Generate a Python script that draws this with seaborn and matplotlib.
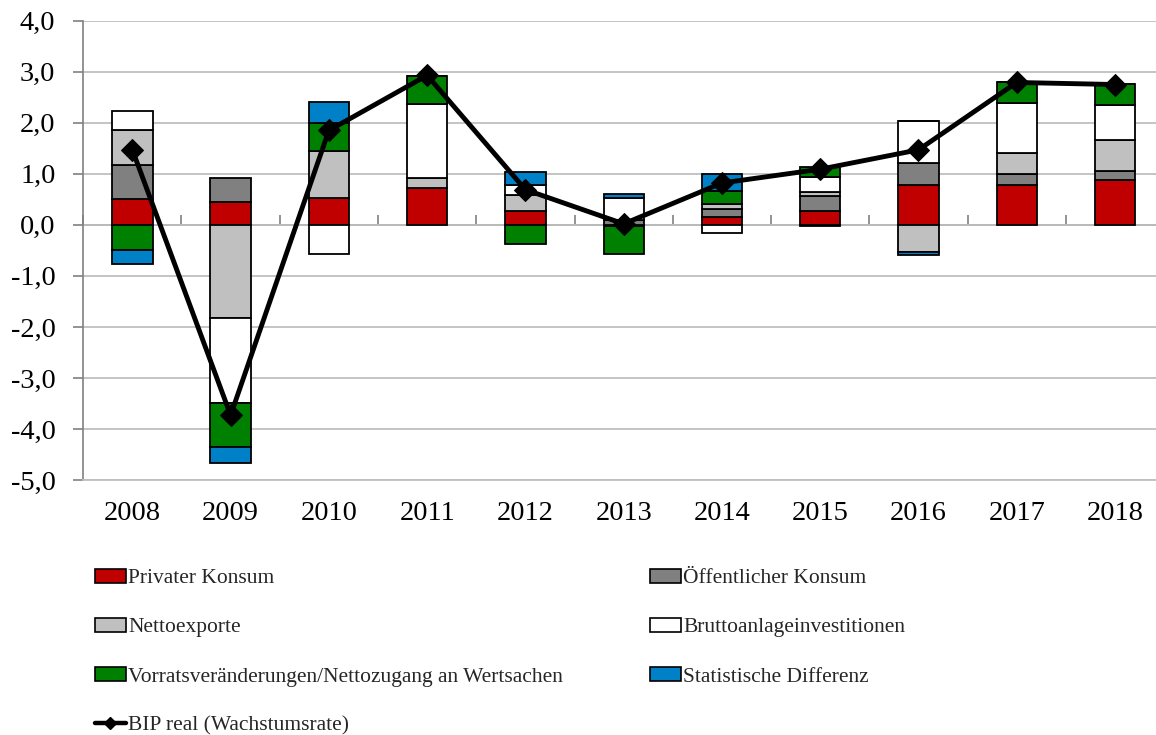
import numpy as np
import pandas as pd
import matplotlib
matplotlib.use("Agg")
import matplotlib.pyplot as plt
import seaborn as sns
from matplotlib.patches import Patch
from matplotlib.lines import Line2D

# Daten (Beiträge zum realen BIP-Wachstum, Prozentpunkte)
jahre = ["2008", "2009", "2010", "2011", "2012", "2013", "2014", "2015", "2016", "2017", "2018"]
privat = [0.50, 0.44, 0.52, 0.72, 0.27, -0.03, 0.15, 0.28, 0.78, 0.78, 0.88]
oeffentlich = [0.67, 0.48, 0.00, 0.00, 0.00, 0.10, 0.16, 0.29, 0.44, 0.22, 0.18]
netto = [0.69, -1.83, 0.93, 0.20, 0.31, 0.00, 0.10, 0.08, -0.54, 0.41, 0.60]
brutto = [0.37, -1.67, -0.57, 1.44, 0.20, 0.42, -0.15, 0.28, 0.81, 0.98, 0.69]
vorrat = [-0.50, -0.86, 0.55, 0.56, -0.38, -0.54, 0.26, 0.20, 0.00, 0.41, 0.41]
statistik = [-0.26, -0.30, 0.41, 0.00, 0.26, 0.08, 0.32, -0.02, -0.05, 0.00, 0.00]
bip = [1.47, -3.73, 1.85, 2.93, 0.69, 0.02, 0.82, 1.09, 1.47, 2.79, 2.75]

reihen = [
    ("Privater Konsum", privat, "#C00000"),
    ("Öffentlicher Konsum", oeffentlich, "#808080"),
    ("Nettoexporte", netto, "#C0C0C0"),
    ("Bruttoanlageinvestitionen", brutto, "#FFFFFF"),
    ("Vorratsveränderungen/Nettozugang an Wertsachen", vorrat, "#008000"),
    ("Statistische Differenz", statistik, "#0080C6"),
]

sns.set_theme(style="white")
plt.rcParams["font.family"] = ["Liberation Serif", "DejaVu Serif"]

fig = plt.figure(figsize=(11.56, 7.35), dpi=100)
ax = fig.add_axes([0.072, 0.3469, 0.935, 0.6249])

# gestapelte Balken: positive nach oben, negative nach unten
pos_basis = np.zeros(len(jahre))
neg_basis = np.zeros(len(jahre))
for name, werte, farbe in reihen:
    werte = np.array(werte)
    basis = np.where(werte >= 0, pos_basis, neg_basis)
    df = pd.DataFrame({"Jahr": jahre, "Wert": werte})
    sns.barplot(data=df, x="Jahr", y="Wert", bottom=basis, color=farbe,
                saturation=1, width=0.41, edgecolor="black", linewidth=1.3,
                errorbar=None, ax=ax, zorder=3)
    pos_basis = pos_basis + np.where(werte >= 0, werte, 0)
    neg_basis = neg_basis + np.where(werte < 0, werte, 0)

# BIP-Linie
sns.lineplot(x=np.arange(len(jahre)), y=bip, color="black", linewidth=3.5,
             marker="D", markersize=11, markeredgecolor="black", ax=ax, zorder=5)

ymin, ymax = -5, 4
ax.set_ylim(ymin, ymax)
ax.set_xlim(-0.5, len(jahre) - 0.5)
ax.set_yticks(np.arange(ymin, ymax + 1, 1))
ax.set_yticklabels([f"{v:.1f}".replace(".", ",") for v in np.arange(ymin, ymax + 1, 1)])
ax.set_xlabel("")
ax.set_ylabel("")

ax.yaxis.grid(True, color="#BFBFBF", linewidth=1.3, zorder=0)
ax.set_axisbelow(True)
for s in ["top", "right"]:
    ax.spines[s].set_visible(False)
ax.spines["left"].set_color("#808080")
ax.spines["left"].set_linewidth(1.2)
ax.spines["bottom"].set_color("#BFBFBF")
ax.spines["bottom"].set_linewidth(1.3)

ax.tick_params(axis="y", left=True, length=7, width=1.2, color="#808080",
               pad=13, labelsize=20.5, labelcolor="black")
ax.tick_params(axis="x", bottom=False, pad=9, labelsize=20.5, labelcolor="black")

# Nulllinie mit Teilstrichen zwischen den Jahren (nach oben zeigend)
null_pos = (0 - ymin) / (ymax - ymin)
sec = ax.secondary_xaxis(null_pos)
sec.set_xticks(np.arange(-0.5, len(jahre), 1))
sec.set_xticklabels([])
sec.tick_params(axis="x", direction="out", length=7, width=1.2, color="#808080")
for sp in sec.spines.values():
    sp.set_color("#808080")
    sp.set_linewidth(1.3)

# Legende in zwei Spalten
griffe = [Patch(facecolor=f, edgecolor="black", linewidth=1.2, label=n) for n, _, f in reihen]
griffe_links = [griffe[0], griffe[2], griffe[4],
                Line2D([], [], color="black", linewidth=3.2, marker="D", markersize=6,
                       label="BIP real (Wachstumsrate)")]
griffe_rechts = [griffe[1], griffe[3], griffe[5]]

leg_kw = dict(frameon=False, fontsize=15.5, handlelength=1.45, handleheight=0.6,
              handletextpad=0.1, labelspacing=1.38, borderaxespad=0, borderpad=0)
fig.legend(handles=griffe_links, loc="upper left", bbox_to_anchor=(0.082, 0.226), **leg_kw)
fig.legend(handles=griffe_rechts, loc="upper left", bbox_to_anchor=(0.5623, 0.226), **leg_kw)

fig.savefig("out.png", dpi=100)
